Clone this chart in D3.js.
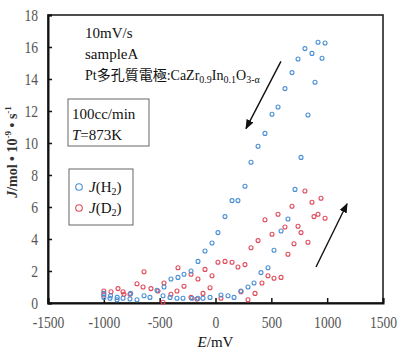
<!DOCTYPE html>
<html>
<head>
<meta charset="utf-8">
<script src="https://cdn.jsdelivr.net/npm/d3@7"></script>
<style>
  body { margin: 0; background: #fff; }
  svg { display: block; }
</style>
</head>
<body>
<svg width="398" height="355"></svg>
<script>
// J(H2) points, E in mV, J in 10^-9 mol/s
const h2E = [981, 918, 864, 801, 739, 685, 622, 560, 506, 443, 381, 318, 264, 201, 148, 85, 22, -31, -94, -157,
  -219, -282, -336, -399, -461, -524, -587, -640, -703, -766, -828, -882, -945, -1000, -1000, -940, -880, -760,
  -470, -407, -345, -291, -210, -157, -112, -49, 49, 112, 166, 228, 291, 345, 407, 470, 524, 587, 649, 712, 766, 828, 891, 954];
const h2J = [16.25, 16.3, 15.6, 15.9, 15.25, 14.4, 13.4, 12.25, 11.8, 10.6, 9.8, 8.8, 7.3, 6.4, 6.4, 5.4, 4.4, 3.75, 3.25, 2.6,
  2.0, 1.8, 1.6, 1.5, 1.0, 0.8, 0.35, 0.45, 0.2, 0.25, 0.3, 0.2, 0.3, 0.35, 0.6, 0.45, 0.35, 0.6,
  0.45, 0.35, 0.3, 0.3, 0.3, 0.3, 0.3, 0.35, 0.5, 0.45, 0.35, 0.75, 1.0, 1.25, 1.9, 2.2, 3.3, 4.5, 5.25, 7.1, 9.1, 11.75, 13.8, 15.3];

// J(D2) points
const d2E = [801, 945, 864, 685, 560, 443, 918, 882, 981, 622, 739, 766, 506, 381, 828, 703, 318, 649, 264, 201,
  148, 85, 22, -31, -94, -157, -219, -282, -336, -345, -399, -461, -515, -578, -640, -649, -703, -470, -766, -820,
  -828, -873, -936, -1000, -1000, -219, -166, -112, -49, 49, 228, 291, 354, 416, 470, 524, 587];
const d2J = [7.0, 6.55, 6.3, 6.05, 5.55, 5.2, 5.55, 5.4, 5.3, 4.75, 4.8, 4.4, 4.3, 3.9, 3.8, 3.7, 3.45, 3.05, 2.4, 2.25,
  2.55, 2.6, 2.55, 1.7, 2.1, 1.5, 1.8, 1.05, 2.2, 0.75, 0.55, 1.25, 0.75, 0.9, 1.95, 1.0, 1.2, 0.05, 0.55, 0.55,
  0.7, 0.9, 0.7, 0.75, 0.5, 0.35, 0.25, 0.6, 0.95, 0.3, 0.7, 0.2, 0.6, 1.25, 1.7, 1.55, 1.6];

const xTicks = [-1500, -1000, -500, 0, 500, 1000, 1500];
const yTicks = [0, 2, 4, 6, 8, 10, 12, 14, 16, 18];

// sweep direction arrows [E0, J0, E1, J1]
const arrows = [[586, 15.1, 273, 10.9], [900, 2.25, 1178, 6.2]];

const serif = '"Liberation Serif", "Noto Sans CJK JP", serif';
const margin = { top: 15, right: 15, bottom: 52, left: 48 };
const width = 398, height = 355;
const squeeze = 0.8; // the original figure's numbers are narrow
const svg = d3.select('svg').style('font-family', serif);

const x = d3.scaleLinear().domain([-1500, 1500]).range([margin.left, width - margin.right]);
const y = d3.scaleLinear().domain([0, 18]).range([height - margin.bottom, margin.top]);

const blue = '#4a8fd4', red = '#e04a5a';

svg.append('defs').append('marker')
  .attr('id', 'arr').attr('viewBox', '0 0 10 10').attr('refX', 9).attr('refY', 5)
  .attr('markerWidth', 7).attr('markerHeight', 7).attr('orient', 'auto')
  .append('path').attr('d', 'M0,1 L10,5 L0,9 Z').attr('fill', '#111');

// frame
svg.append('rect')
  .attr('x', x(-1500)).attr('y', y(18))
  .attr('width', x(1500) - x(-1500)).attr('height', y(0) - y(18))
  .attr('fill', 'none').attr('stroke', '#222').attr('stroke-width', 1.6);

const xAxis = svg.append('g')
  .attr('transform', 'translate(0,' + y(0) + ')')
  .call(d3.axisBottom(x).tickValues(xTicks).tickSize(-5).tickPadding(13).tickFormat((d) => String(d)));
xAxis.attr('font-family', null);
xAxis.select('.domain').attr('stroke', '#111').attr('stroke-width', 2);
xAxis.selectAll('.tick line').attr('stroke', '#111').attr('stroke-width', 1.5);
xAxis.selectAll('text').attr('font-size', 17).attr('fill', '#555').style('font-family', serif)
  .attr('transform', 'scale(' + squeeze + ',1)');

const yAxis = svg.append('g')
  .attr('transform', 'translate(' + x(-1500) + ',0)')
  .call(d3.axisLeft(y).tickValues(yTicks).tickSize(-4).tickPadding(10));
yAxis.attr('font-family', null);
yAxis.select('.domain').attr('stroke', '#111').attr('stroke-width', 2);
yAxis.selectAll('.tick line').attr('stroke', '#111').attr('stroke-width', 1.5);
yAxis.selectAll('text').attr('font-size', 17).attr('fill', '#555').style('font-family', serif)
  .attr('x', -10 / squeeze).attr('transform', 'scale(' + squeeze + ',1)');

// points
svg.append('g').selectAll('circle').data(d2E).join('circle')
  .attr('cx', (d) => x(d)).attr('cy', (d, i) => y(d2J[i])).attr('r', 2)
  .attr('fill', 'none').attr('stroke', red).attr('stroke-width', 1.1);
svg.append('g').selectAll('circle').data(h2E).join('circle')
  .attr('cx', (d) => x(d)).attr('cy', (d, i) => y(h2J[i])).attr('r', 2)
  .attr('fill', 'none').attr('stroke', blue).attr('stroke-width', 1.1);

// arrows
svg.append('g').selectAll('line').data(arrows).join('line')
  .attr('x1', (d) => x(d[0])).attr('y1', (d) => y(d[1]))
  .attr('x2', (d) => x(d[2])).attr('y2', (d) => y(d[3]))
  .attr('stroke', '#111').attr('stroke-width', 1.4).attr('marker-end', 'url(#arr)');

// box with flow and temperature
svg.append('rect').attr('x', 68).attr('y', 99).attr('width', 81).attr('height', 47)
  .attr('fill', '#fff').attr('stroke', '#666').attr('stroke-width', 1);

// condition text
const info = svg.append('g').attr('font-size', 15).attr('fill', '#111');
info.append('text').attr('x', 85).attr('y', 38).text('10mV/s');
info.append('text').attr('x', 85).attr('y', 59).text('sampleA');
const f = info.append('text').attr('x', 85).attr('y', 80).attr('font-size', 14);
f.append('tspan').text('Pt多孔質電極:CaZr');
f.append('tspan').attr('font-size', 10).attr('dy', 3).text('0.9');
f.append('tspan').attr('dy', -3).text('In');
f.append('tspan').attr('font-size', 10).attr('dy', 3).text('0.1');
f.append('tspan').attr('dy', -3).text('O');
f.append('tspan').attr('font-size', 10).attr('dy', 3).text('3-α');

info.append('text').attr('x', 72).attr('y', 119).text('100cc/min');
const t = info.append('text').attr('x', 72).attr('y', 140);
t.append('tspan').attr('font-style', 'italic').text('T');
t.append('tspan').text('=873K');

// legend
const legend = svg.append('g');
legend.append('rect').attr('x', 69).attr('y', 169).attr('width', 64).attr('height', 56)
  .attr('fill', '#fff').attr('stroke', '#666').attr('stroke-width', 1);
[['H', blue, 187], ['D', red, 208]].forEach(([g, c, yy]) => {
  legend.append('circle').attr('cx', 79).attr('cy', yy).attr('r', 3.3)
    .attr('fill', 'none').attr('stroke', c).attr('stroke-width', 1.1);
  const lt = legend.append('text').attr('x', 89).attr('y', yy + 5).attr('font-size', 15).attr('fill', '#111');
  lt.append('tspan').attr('font-style', 'italic').text('J');
  lt.append('tspan').text('(' + g);
  lt.append('tspan').attr('font-size', 10).attr('dy', 3).text('2');
  lt.append('tspan').attr('dy', -3).text(')');
});

// axis titles
const xl = svg.append('text').attr('x', x(0)).attr('y', 347).attr('text-anchor', 'middle')
  .attr('font-size', 15).attr('fill', '#111');
xl.append('tspan').attr('font-style', 'italic').text('E');
xl.append('tspan').text('/mV');

const yl = svg.append('text').attr('transform', 'translate(17,' + 152 + ') rotate(-90)')
  .attr('text-anchor', 'middle').attr('font-size', 14).attr('font-weight', 'bold').attr('fill', '#333');
yl.append('tspan').attr('font-style', 'italic').text('J');
yl.append('tspan').text('/mol • 10');
yl.append('tspan').attr('font-size', 9).attr('dy', -6).text('-9');
yl.append('tspan').attr('dy', 6).text(' • s');
yl.append('tspan').attr('font-size', 9).attr('dy', -6).text('-1');
</script>
</body>
</html>
